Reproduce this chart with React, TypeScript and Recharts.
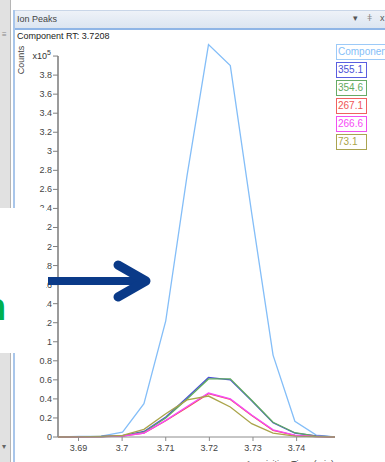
import { LineChart, Line, XAxis, YAxis, ReferenceLine } from "recharts";

// acquisition times (min) and ion counts (x10^5)
const times = [3.6853, 3.6902, 3.6952, 3.7001, 3.705, 3.71, 3.7149, 3.7198, 3.7248, 3.7297, 3.7346, 3.7396, 3.7445, 3.7488];
const component = [0, 0.005, 0.01, 0.05, 0.35, 1.22, 2.75, 4.12, 3.9, 2.35, 0.86, 0.165, 0.02, 0];
const ion3551 = [0, 0.003, 0.005, 0.014, 0.058, 0.21, 0.415, 0.625, 0.6, 0.38, 0.15, 0.04, 0.012, 0];
const ion3546 = [0, 0.003, 0.005, 0.012, 0.05, 0.2, 0.4, 0.61, 0.61, 0.385, 0.155, 0.045, 0.01, 0];
const ion2671 = [0, 0.002, 0.004, 0.01, 0.04, 0.17, 0.31, 0.455, 0.395, 0.225, 0.07, 0.018, 0.004, 0];
const ion2666 = [0, 0.002, 0.004, 0.01, 0.042, 0.175, 0.32, 0.462, 0.4, 0.23, 0.075, 0.02, 0.005, 0];
const ion731 = [0, 0.002, 0.005, 0.018, 0.08, 0.245, 0.39, 0.43, 0.315, 0.14, 0.04, 0.01, 0.003, 0];

const xTicks = [3.69, 3.7, 3.71, 3.72, 3.73, 3.74];
const yTicks = [0, 0.2, 0.4, 0.6, 0.8, 1, 1.2, 1.4, 1.6, 1.8, 2, 2.2, 2.4, 2.6, 2.8, 3, 3.2, 3.4, 3.6, 3.8, 4];

const series = [
  { key: "component", name: "Component", color: "#84bef8", box: "#9ccaf8", values: component },
  { key: "i3551", name: "355.1", color: "#4a4fd6", box: "#5a5ee0", values: ion3551 },
  { key: "i3546", name: "354.6", color: "#5faa5f", box: "#66aa66", values: ion3546 },
  { key: "i2671", name: "267.1", color: "#f05555", box: "#f06060", values: ion2671 },
  { key: "i2666", name: "266.6", color: "#f64af6", box: "#f050f0", values: ion2666 },
  { key: "i731", name: "73.1", color: "#aaa44a", box: "#aaa450", values: ion731 },
];

const data = times.map((t, i) => {
  const row: Record<string, number> = { t };
  series.forEach((s) => (row[s.key] = s.values[i]));
  return row;
});

const font = "'Liberation Sans', Arial, sans-serif";
const xMin = times[0];
const xMax = times[times.length - 1];

function YTick(props: any) {
  const { x, y, payload } = props;
  if (payload.value === 4) {
    return (
      <text x={x - 1} y={y + 3} textAnchor="end" fontSize={9} fill="#333" fontFamily={font}>
        x10
        <tspan dy={-4} fontSize={7}>5</tspan>
      </text>
    );
  }
  const label = String(Number(payload.value.toFixed(1)));
  return (
    <text x={x} y={y + 3} textAnchor="end" fontSize={9} fill="#444" fontFamily={font}>
      {label}
    </text>
  );
}

function Chart() {
  return (
    <LineChart width={385} height={462} data={data} margin={{ top: 37, right: 50, left: 0, bottom: 0 }}>
      <XAxis
        type="number"
        dataKey="t"
        domain={[xMin, xMax]}
        allowDataOverflow
        ticks={xTicks}
        tickFormatter={(v: number) => String(v)}
        height={25}
        tickSize={4}
        tickMargin={4}
        tick={{ fontSize: 9, fill: "#444", fontFamily: font }}
        stroke="#8c8c8c"
        label={{
          content: (p: any) => (
            <text
              x={p.viewBox.x + p.viewBox.width - 1}
              y={p.viewBox.y + 30}
              textAnchor="end"
              fontSize={9}
              fill="#444"
              fontFamily={font}
            >
              Acquisition Time (min)
            </text>
          ),
        }}
      />
      <YAxis
        type="number"
        domain={[0, 4.2]}
        ticks={yTicks}
        width={58}
        tickSize={5}
        tickMargin={1}
        axisLine={false}
        tickLine={{ stroke: "#808080" }}
        tick={<YTick />}
        interval={0}
        label={{
          content: (p: any) => {
            const cx = p.viewBox.x + 22;
            const cy = p.viewBox.y + 23;
            return (
              <text
                x={cx}
                y={cy}
                transform={`rotate(-90 ${cx} ${cy})`}
                textAnchor="middle"
                dominantBaseline="middle"
                fontSize={9}
                fill="#444"
                fontFamily={font}
              >
                Counts
              </text>
            );
          },
        }}
      />
      <ReferenceLine
        segment={[
          { x: xMin, y: 0 },
          { x: xMin, y: 4 },
        ]}
        stroke="#7a7a7a"
        strokeWidth={1.5}
      />
      {series.map((s) => (
        <Line
          key={s.key}
          type="linear"
          dataKey={s.key}
          name={s.name}
          stroke={s.color}
          strokeWidth={1.3}
          dot={false}
          isAnimationActive={false}
        />
      ))}
    </LineChart>
  );
}

function LegendBoxes() {
  return (
    <div style={{ position: "absolute", left: 336, top: 44 }}>
      {series.map((s) => (
        <div
          key={s.key}
          style={{
            boxSizing: "border-box",
            height: 16,
            marginBottom: 2,
            width: s.key === "component" ? 60 : 31,
            border: `1.5px solid ${s.box}`,
            color: s.color,
            fontSize: 10,
            lineHeight: "13px",
            paddingLeft: 1,
            fontFamily: font,
            background: "#fff",
            whiteSpace: "nowrap",
            overflow: "hidden",
          }}
        >
          {s.name}
        </div>
      ))}
    </div>
  );
}

export default function App() {
  return (
    <div
      style={{
        position: "absolute",
        left: 0,
        top: 0,
        width: 385,
        height: 462,
        overflow: "hidden",
        background: "#fff",
        fontFamily: font,
      }}
    >
      {/* window chrome */}
      <div style={{ position: "absolute", left: 0, top: 0, width: 10, height: 462, background: "#e1e1e1" }} />
      <div style={{ position: "absolute", left: 10, top: 0, width: 1, height: 462, background: "#b5b5b5" }} />
      <div style={{ position: "absolute", left: 13, top: 10, width: 2, height: 452, background: "#a9c6ea" }} />
      <div style={{ position: "absolute", left: 2, top: 30, fontSize: 8, color: "#888" }}>≡</div>
      <div style={{ position: "absolute", left: 2, top: 442, fontSize: 8, color: "#666" }}>▾</div>
      <div
        style={{
          position: "absolute",
          left: 15,
          top: 10,
          width: 370,
          height: 17,
          background: "linear-gradient(#eef2f8, #dce5f1)",
          borderTop: "1px solid #c9d6e8",
          borderBottom: "2px solid #8fb5e6",
        }}
      >
        <span style={{ position: "absolute", left: 2, top: 3, fontSize: 9, color: "#444" }}>Ion Peaks</span>
        <span style={{ position: "absolute", left: 338, top: 2, fontSize: 9, color: "#555" }}>▾</span>
        <span style={{ position: "absolute", left: 352, top: 2, fontSize: 9, color: "#888" }}>ǂ</span>
        <span style={{ position: "absolute", left: 365, top: 2, fontSize: 9, color: "#555" }}>x</span>
      </div>
      <div style={{ position: "absolute", left: 17, top: 31, fontSize: 9, color: "#222", whiteSpace: "nowrap" }}>
        Component RT: 3.7208
      </div>

      <div style={{ position: "absolute", left: 0, top: 0 }}>
        <Chart />
      </div>
      <LegendBoxes />

      {/* slide overlay: white patch, green text fragment and arrow */}
      <div style={{ position: "absolute", left: 0, top: 208, width: 46, height: 145, background: "#fff" }} />
      <svg style={{ position: "absolute", left: 0, top: 0 }} width={385} height={462}>
        <text x={-17} y={320} fontSize={38} fontWeight="bold" fill="#00b050" fontFamily={font}>
          n
        </text>
        <rect x={48} y={277} width={92} height={8} fill="#0a3a88" />
        <polyline
          points="118,265 146,281 118,297"
          fill="none"
          stroke="#0a3a88"
          strokeWidth={9}
          strokeLinecap="round"
          strokeLinejoin="round"
        />
      </svg>
    </div>
  );
}
